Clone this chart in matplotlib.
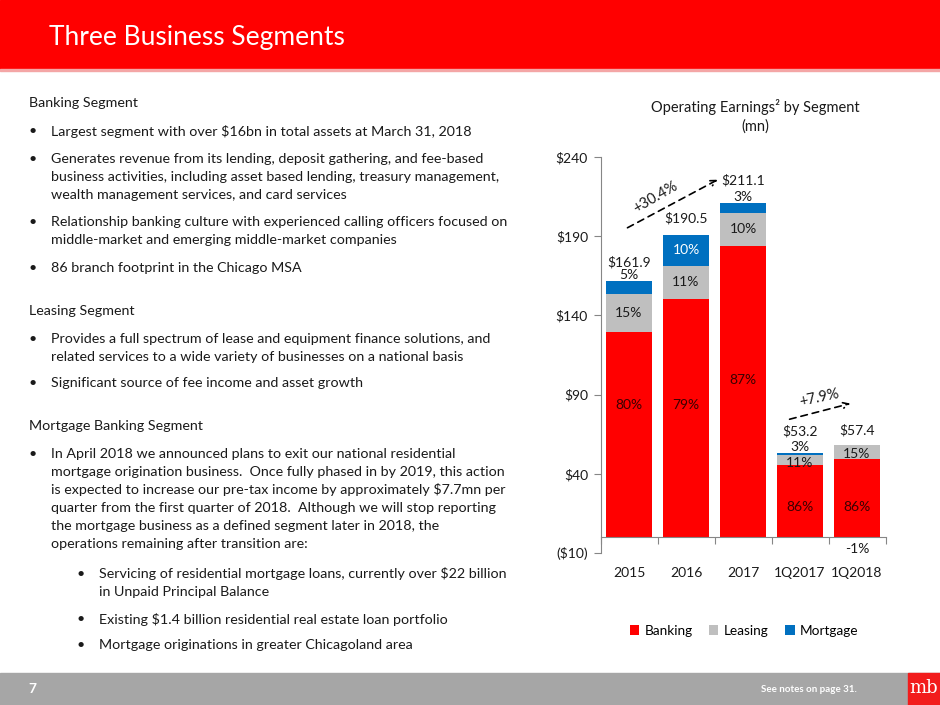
import matplotlib
matplotlib.use("Agg")
import matplotlib.pyplot as plt
import numpy as np

plt.rcParams['font.family'] = ['Lato', 'DejaVu Sans']

categories = ["2015", "2016", "2017", "1Q2017", "1Q2018"]
totals = [161.9, 190.5, 211.1, 53.2, 57.4]
banking_pct = [80, 79, 87, 86, 86]
leasing_pct = [15, 11, 10, 11, 15]
mortgage_pct = [5, 10, 3, 3, -1]
banking = [129.5, 150.5, 183.7, 45.8, 49.4]
leasing = [24.3, 21.0, 21.1, 5.8, 8.6]
mortgage = [8.1, 19.0, 6.3, 1.6, -0.6]
yticks = [-10, 40, 90, 140, 190, 240]
ytick_labels = ["($10)", "$40", "$90", "$140", "$190", "$240"]
growth_labels = ["+30.4%", "+7.9%"]

RED = "#FF0000"
GRAY = "#BFBFBF"
BLUE = "#0070C0"
TXT = "#1a1a1a"

fig = plt.figure(figsize=(9.4, 7.05), dpi=100)

# header band
fig.patches.append(plt.Rectangle((0, 1 - 69/705), 1, 69/705, transform=fig.transFigure,
                                 color=RED, zorder=0))
fig.patches.append(plt.Rectangle((0, 1 - 71/705), 1, 2/705, transform=fig.transFigure,
                                 color="#F4A6A6", zorder=0))
fig.text(49/940, 1 - 38/705, "Three Business Segments", color="white", fontsize=19,
         va="center", ha="left")

# footer band
fig.patches.append(plt.Rectangle((0, 0), 1, 32/705, transform=fig.transFigure,
                                 color="#A6A6A6", zorder=0))
fig.patches.append(plt.Rectangle((908/940, 0), 32/940, 32/705, transform=fig.transFigure,
                                 color="#F21C1C", zorder=1))
fig.text(28/940, 16/705, "7", color="white", fontsize=10, fontweight="bold", va="center")
fig.text(857/940, 16/705, "See notes on page 31.", color="white", fontsize=7,
         fontweight="bold", va="center", ha="right")
fig.text(924/940, 17/705, "mb", color="white", fontsize=13, family="DejaVu Serif",
         va="center", ha="center")

# left text
lines = [
    ("h", 103, "Banking Segment"),
    ("b", 131, "Largest segment with over $16bn in total assets at March 31, 2018"),
    ("b", 159, "Generates revenue from its lending, deposit gathering, and fee-based"),
    ("c", 177, "business activities, including asset based lending, treasury management,"),
    ("c", 195, "wealth management services, and card services"),
    ("b", 222, "Relationship banking culture with experienced calling officers focused on"),
    ("c", 240, "middle-market and emerging middle-market companies"),
    ("b", 268, "86 branch footprint in the Chicago MSA"),
    ("h", 311, "Leasing Segment"),
    ("b", 339, "Provides a full spectrum of lease and equipment finance solutions, and"),
    ("c", 357, "related services to a wide variety of businesses on a national basis"),
    ("b", 383, "Significant source of fee income and asset growth"),
    ("h", 426, "Mortgage Banking Segment"),
    ("b", 454, "In April 2018 we announced plans to exit our national residential"),
    ("c", 472, "mortgage origination business.  Once fully phased in by 2019, this action"),
    ("c", 490, "is expected to increase our pre-tax income by approximately $7.7mn per"),
    ("c", 508, "quarter from the first quarter of 2018.  Although we will stop reporting"),
    ("c", 526, "the mortgage business as a defined segment later in 2018, the"),
    ("c", 544, "operations remaining after transition are:"),
    ("b2", 574, "Servicing of residential mortgage loans, currently over $22 billion"),
    ("c2", 592, "in Unpaid Principal Balance"),
    ("b2", 619, "Existing $1.4 billion residential real estate loan portfolio"),
    ("b2", 645, "Mortgage originations in greater Chicagoland area"),
]
fs = 10.3
for kind, y, s in lines:
    yy = 1 - y/705
    if kind == "h":
        fig.text(29/940, yy, s, fontsize=fs, color=TXT, va="center")
    elif kind in ("b", "c"):
        if kind == "b":
            fig.text(29/940, yy, "•", fontsize=fs, color=TXT, va="center")
        fig.text(51/940, yy, s, fontsize=fs, color=TXT, va="center")
    else:
        if kind == "b2":
            fig.text(77/940, yy, "•", fontsize=fs, color=TXT, va="center")
        fig.text(99/940, yy, s, fontsize=fs, color=TXT, va="center")

# chart
ax = fig.add_axes([600.5/940, 1 - 553/705, 285/940, 396/705])
x = np.arange(len(categories))
w = 0.81
b = np.array(banking)
l = np.array(leasing)
m = np.array(mortgage)
ax.bar(x, b, w, color=RED, label="Banking", zorder=2)
ax.bar(x, l, w, bottom=b, color=GRAY, label="Leasing", zorder=2)
mb_bottom = np.where(m >= 0, b + l, 0)
ax.bar(x, m, w, bottom=mb_bottom, color=BLUE, label="Mortgage", zorder=2)

ax.set_xlim(-0.5, len(categories) - 0.5)
ax.set_ylim(-10, 240)
ax.set_yticks(yticks)
ax.set_yticklabels(ytick_labels)
ax.tick_params(axis="y", length=5, color="#868686", labelsize=10, labelcolor=TXT, pad=4)
ax.set_xticks(np.arange(-0.5, len(categories), 1.0))
ax.set_xticklabels([])
ax.tick_params(axis="x", length=5, color="#868686", direction="out")
for sp in ["top", "right"]:
    ax.spines[sp].set_visible(False)
ax.spines["left"].set_color("#868686")
ax.spines["bottom"].set_color("#868686")
ax.spines["bottom"].set_position(("data", 0))

trans = matplotlib.transforms.blended_transform_factory(ax.transData, ax.transAxes)
for i, c in enumerate(categories):
    ax.text(i, -0.05, c, transform=trans, ha="center", va="center", fontsize=10, color=TXT)

# label placement (fractions of the banking bar height for banking labels)
bank_frac = [0.643, 0.553, 0.54, 0.42, 0.39]
total_off = [11.9, 10.7, 14.3, 13.9, 10.1]
LFS = 10
for i in range(len(categories)):
    ax.text(i, b[i] * bank_frac[i], f"{banking_pct[i]}%", ha="center", va="center",
            fontsize=LFS, color="#3a0000", zorder=3)
    # leasing
    if i == 3:
        ly = b[i] + 0.9
    elif i == 4:
        ly = b[i] + 3.0
    else:
        ly = b[i] + l[i] / 2
    ax.text(i, ly, f"{leasing_pct[i]}%", ha="center", va="center",
            fontsize=LFS, color=TXT, zorder=3)
    # mortgage
    if i == 1:
        ax.text(i, b[i] + l[i] + m[i] / 2, f"{mortgage_pct[i]}%", ha="center",
                va="center", fontsize=LFS, color="white", zorder=3)
    elif i == 4:
        ax.text(i, -7.6, f"{mortgage_pct[i]}%", ha="center", va="center",
                fontsize=LFS, color=TXT, zorder=3)
    else:
        ax.text(i, totals[i] + 3.8, f"{mortgage_pct[i]}%", ha="center", va="center",
                fontsize=LFS, color=TXT, zorder=3)
    ax.text(i, totals[i] + total_off[i], f"${totals[i]:.1f}", ha="center", va="center",
            fontsize=LFS, color=TXT, zorder=3)

# growth arrows
ax.annotate("", xy=(1.6, 226.5), xytext=(-0.07, 194.5),
            arrowprops=dict(arrowstyle="->", linestyle=(0, (4, 3)), color="black", lw=1.2))
ax.text(0.46, 214.5, growth_labels[0], rotation=30, ha="center", va="center", fontsize=10.5,
        color=TXT)
ax.annotate("", xy=(3.93, 84.8), xytext=(2.77, 74),
            arrowprops=dict(arrowstyle="->", linestyle=(0, (4, 3)), color="black", lw=1.2))
ax.text(3.33, 87.8, growth_labels[1], rotation=12, ha="center", va="center", fontsize=10.5,
        color=TXT)

# chart title
fig.text(755/940, 1 - 107/705, "Operating Earnings² by Segment", ha="center", va="center",
         fontsize=10.5, color=TXT)
fig.text(755/940, 1 - 127/705, "(mn)", ha="center", va="center", fontsize=10.5, color=TXT)

# legend
handles, labs = ax.get_legend_handles_labels()
fig.legend(handles, labs, loc="center", bbox_to_anchor=(744/940, 1 - 631/705), ncol=3,
           frameon=False, fontsize=9.8, handlelength=0.7, handleheight=0.7,
           columnspacing=1.2, handletextpad=0.4)

fig.savefig("out.png", dpi=100)
